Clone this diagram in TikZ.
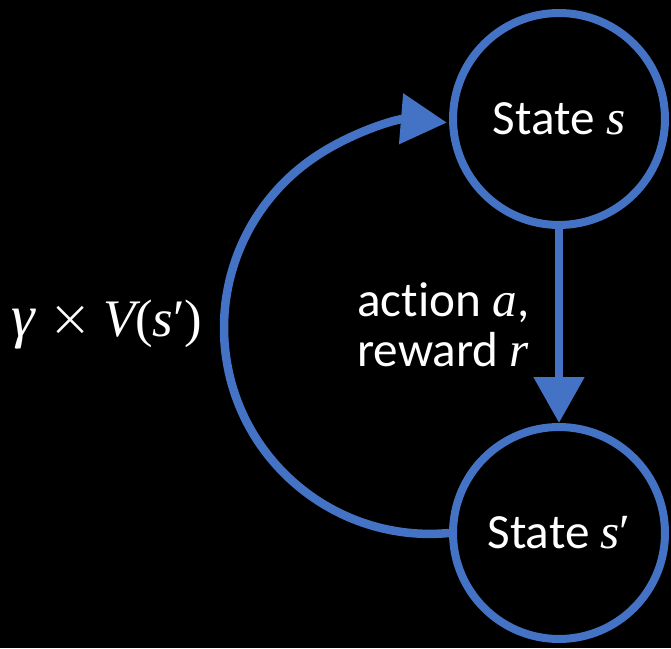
\documentclass[tikz,border=0pt]{standalone}
\usepackage{fontspec}
\setmainfont[Ligatures=NoCommon]{Carlito}
\newfontfamily\mfont{Liberation Serif}
\newfontfamily\xfont{DejaVu Sans ExtraLight}
\newcommand{\mv}[1]{{\mfont\itshape #1}}
\usetikzlibrary{arrows.meta}
\definecolor{nodeblue}{RGB}{68,114,196}
\begin{document}
\begin{tikzpicture}[x=0.02cm,y=0.02cm,
  state/.style={circle,draw=nodeblue,line width=0.16cm,minimum size=4.24cm,inner sep=0pt,outer sep=0.08cm,text=white,font=\fontsize{28}{30}\selectfont},
  conn/.style={draw=nodeblue,line width=0.17cm,-{Triangle[length=0.92cm,width=0.98cm]}},
  lbl/.style={text=white,inner sep=0pt,font=\fontsize{28}{28.5}\selectfont}]
\fill[black] (0,0) rectangle (671,648);
\useasboundingbox (0,0) rectangle (671,648);
\node[state] (s1) at (559,529) {State \mv{s}};
\node[state] (s2) at (559,115) {State \mv{s}{\mfont ′}};
\draw[conn] (s1.south) -- (s2.north);
\draw[conn] (s2.west) arc[start angle=275.3,end angle=85.3,radius=206];
\node[lbl,font=\fontsize{30}{32}\selectfont] (gam) at (107,323) {\mv{\fontsize{34}{34}\selectfont γ}\kern0.25em{\xfont ×}\kern0.2em\mv{V}{\mfont (}\mv{s}{\mfont ′)}};
\node[lbl,align=left,anchor=west] (act) at (357,323) {action \mv{a},\\reward \mv{r}};
\end{tikzpicture}
\end{document}
